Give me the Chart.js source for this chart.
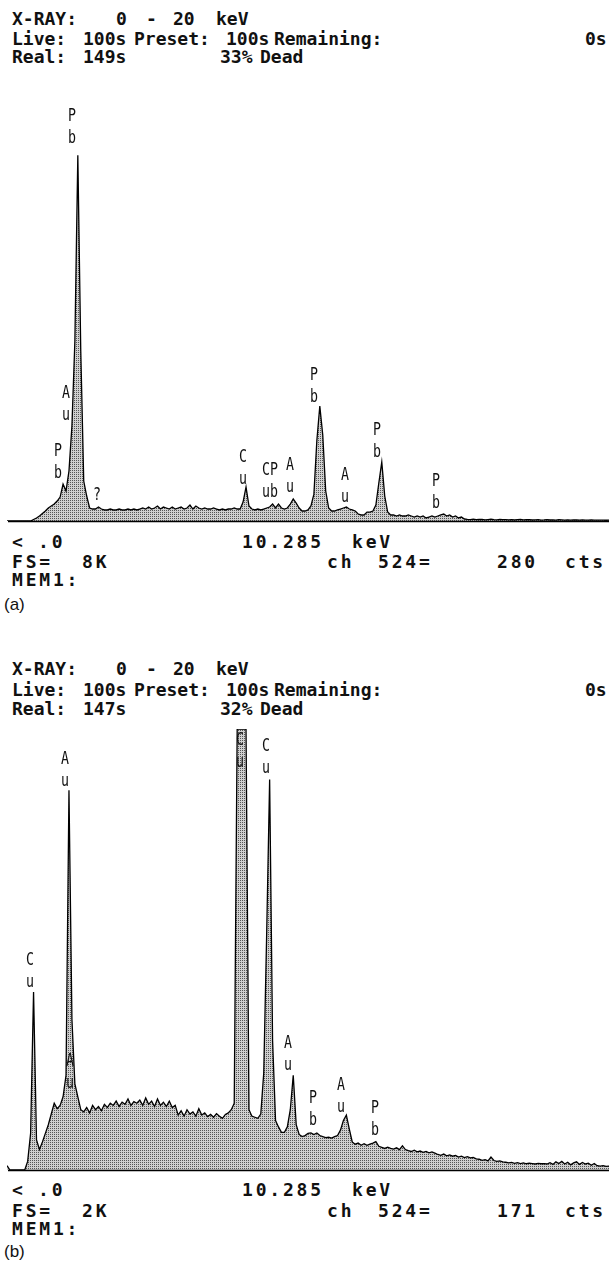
<!DOCTYPE html>
<html><head><meta charset="utf-8">
<script src="https://cdn.jsdelivr.net/npm/chart.js@4.4.1/dist/chart.umd.min.js"></script>
<style>
html,body{margin:0;padding:0;background:#fff;}
#page{position:relative;width:609px;height:1263px;overflow:hidden;background:#fff;}
.t{position:absolute;font-family:"DejaVu Sans Mono",monospace;font-size:18px;font-weight:bold;line-height:1;color:#111;white-space:pre;}
.h{letter-spacing:0px;}
.f{letter-spacing:2.8px;}
.cap{position:absolute;font-family:"Liberation Sans",Arial,sans-serif;font-size:17px;line-height:1;color:#111;white-space:pre;}
.lbl{position:absolute;font-family:"DejaVu Sans Mono",monospace;font-size:17px;line-height:22px;color:#111;text-align:center;white-space:pre;transform-origin:50% 50%;}
canvas{position:absolute;left:0;}
</style></head><body><div id="page"></div>
<script>
// ---------- DATA ----------
// channel energies: 0.0 .. 20.4 keV, 0.1 keV per channel
const channelStepKeV = 0.1;
const channelCount = 205;
const axisMinKeV = 0;
const axisMaxKeV = 20.4;
const cursorKeV = 10.285;

// (a) full scale 8K
const fullScaleA = 8192;
const cursorCountsA = 280;
const countsA = [
  0,0,0,0,0,0,0,0,0,28,
  56,93,140,186,242,279,316,372,446,688,
  558,930,1767,3348,6808,3162,744,465,242,223,
  223,260,223,205,205,223,205,205,223,205,
  205,223,205,223,205,223,242,223,260,223,
  242,279,223,260,242,223,260,223,242,260,
  223,242,298,223,279,242,223,242,223,223,
  242,223,205,223,205,223,223,242,223,223,
  353,632,279,223,205,223,205,223,242,260,
  316,242,316,242,223,242,316,409,335,242,
  186,186,205,280,500,1500,2139,1600,558,242,
  186,186,205,223,242,260,223,205,186,130,
  112,112,167,167,186,298,707,1097,465,167,
  112,112,93,112,93,93,112,93,74,93,
  74,93,56,74,93,74,93,112,130,93,
  112,74,93,56,74,37,30,26,33,24,
  28,31,22,27,33,25,21,29,24,26,
  22,27,19,24,28,20,23,25,19,22,
  24,18,21,26,19,22,17,23,20,18,
  21,16,22,19,17,20,15,18,21,16,
  18,15,17,14,16
];

// (b) full scale 2K
const fullScaleB = 2048;
const cursorCountsB = 171;
const countsB = [
  20,0,0,0,0,0,0,40,170,826,
  140,95,130,170,210,260,310,285,300,340,
  440,1763,700,400,340,280,270,290,265,300,
  280,295,275,305,290,310,300,320,295,315,
  305,330,300,318,310,325,300,335,305,320,
  295,330,300,315,295,320,290,300,255,275,
  250,280,260,270,250,285,255,265,248,258,
  245,262,250,240,258,265,280,310,2048,2048,
  2048,2048,280,250,245,240,260,450,1100,1814,
  600,230,200,175,175,200,280,440,210,165,
  155,160,170,172,165,172,160,155,150,152,
  148,155,160,185,230,255,190,130,120,125,
  115,122,115,120,125,132,110,105,100,106,
  100,97,103,95,112,95,90,86,92,84,
  88,82,86,80,84,78,72,68,74,66,
  70,64,68,60,64,58,62,56,58,52,
  50,45,48,42,60,44,40,42,38,36,
  33,35,31,34,30,33,29,32,30,28,
  31,29,30,28,34,26,38,30,40,28,
  36,24,33,38,26,35,28,32,22,30,
  20,18,20,17,18
];

// peak labels: text, energy (keV), count level of the label's last line
const peakLabelTextA = ["P\nb","A\nu","P\nb","?","C\nu","C\nu","P\nb","A\nu","P\nb","A\nu","P\nb","P\nb"];
const peakLabelKeVA  = [2.2, 2.0, 1.73, 3.05, 8.0, 8.78, 9.05, 9.59, 10.4, 11.45, 12.54, 14.54];
const peakLabelCtsA  = [7031, 1879, 800, 391, 688, 446, 446, 539, 2213, 353, 1190, 242];

const peakLabelTextB = ["C\nu","A\nu","A\nu","C\nu","C\nu","A\nu","P\nb","A\nu","P\nb"];
const peakLabelKeVB  = [0.78, 1.97, 2.13, 7.9, 8.78, 9.52, 10.37, 11.32, 12.47];
const peakLabelCtsB  = [850, 1783, 381, 1872, 1844, 464, 209, 269, 163];

// header / footer texts
const headerA = [["X-RAY:","0","-","20","keV"],["Live:","100s","Preset:","100s","Remaining:","0s"],["Real:","149s","33%","Dead"]];
const headerB = [["X-RAY:","0","-","20","keV"],["Live:","100s","Preset:","100s","Remaining:","0s"],["Real:","147s","32%","Dead"]];
const footerA = [["<",".0","10.285","keV"],["FS=","8K","ch","524=","280","cts"],["MEM1:"]];
const footerB = [["<",".0","10.285","keV"],["FS=","2K","ch","524=","171","cts"],["MEM1:"]];
const captionA = "(a)";
const captionB = "(b)";

// ---------- LAYOUT ----------
const headerX = [[12,116,146,173,216],[12,83,134,226,274,585],[12,83,220,260]];
const footerX = [[12,38,242,352],[12,82,327,378,497,565],[12]];
const page = document.getElementById('page');
const energies = Array.from({length: channelCount}, (_, i) => +(i * channelStepKeV).toFixed(1));

function addText(txt, x, capTop, cls) {
  const d = document.createElement('div');
  d.className = cls;
  d.textContent = txt;
  d.style.left = x + 'px';
  d.style.top = (capTop - 2) + 'px';
  page.appendChild(d);
}

function addRows(rows, xs, capTops, cls) {
  rows.forEach((row, r) => row.forEach((tok, k) => addText(tok, xs[r][k], capTops[r], cls)));
}

function makePattern(ctx) {
  const pc = document.createElement('canvas');
  pc.width = 2; pc.height = 2;
  const p = pc.getContext('2d');
  p.fillStyle = '#cfcfcf'; p.fillRect(0, 0, 2, 2);
  p.fillStyle = '#555555'; p.fillRect(0, 0, 1, 1);
  return ctx.createPattern(pc, 'repeat');
}

const baselinePlugin = {
  id: 'baseline',
  afterDatasetsDraw(chart) {
    const ctx = chart.ctx, a = chart.chartArea;
    const y = Math.round(chart.scales.y.getPixelForValue(0)) + 0.5;
    ctx.save();
    ctx.strokeStyle = '#000';
    ctx.lineWidth = 1.6;
    ctx.beginPath();
    ctx.moveTo(a.left + 1, y);
    ctx.lineTo(a.right, y);
    ctx.stroke();
    ctx.restore();
  }
};

function makePanel(canvasTop, plotHeight, fullScale, counts, cursorCounts, lblText, lblKeV, lblCts) {
  const pad = 3;
  const cv = document.createElement('canvas');
  const h = plotHeight + 2 * pad;
  cv.width = 609; cv.height = h;
  cv.style.width = '609px'; cv.style.height = h + 'px';
  cv.style.top = canvasTop + 'px';
  page.appendChild(cv);
  const ctx = cv.getContext('2d');
  const chart = new Chart(ctx, {
    type: 'line',
    data: {
      datasets: [
        {
          data: counts.map((c, i) => ({x: energies[i], y: c})),
          borderColor: '#000', borderWidth: 1.3,
          backgroundColor: makePattern(ctx),
          fill: 'origin', pointRadius: 0, tension: 0
        },
        {
          data: [{x: cursorKeV, y: 0}, {x: cursorKeV, y: cursorCounts}],
          borderColor: '#222', borderWidth: 1, pointRadius: 0, fill: false
        }
      ]
    },
    options: {
      responsive: false, animation: false, devicePixelRatio: 1, events: [],
      layout: {padding: {left: 7, right: 0, top: pad, bottom: pad}},
      plugins: {legend: {display: false}, tooltip: {enabled: false}, title: {display: false}},
      scales: {
        x: {type: 'linear', min: axisMinKeV, max: axisMaxKeV, display: false},
        y: {min: 0, max: fullScale, display: false}
      }
    },
    plugins: [baselinePlugin]
  });
  const xs = chart.scales.x, ys = chart.scales.y;
  lblText.forEach((t, i) => {
    const lines = t.split('\n').length;
    const d = document.createElement('div');
    d.className = 'lbl';
    d.textContent = t;
    const px = xs.getPixelForValue(lblKeV[i]);
    const py = canvasTop + ys.getPixelForValue(lblCts[i]);
    d.style.left = px + 'px';
    d.style.top = (py - (lines - 1) * 22 - 17) + 'px';
    d.style.transform = 'translateX(-50%) scaleX(0.78)';
    page.appendChild(d);
  });
  return chart;
}

// panel (a)
addRows(headerA, headerX, [12, 32, 50], 't h');
makePanel(78, 440, fullScaleA, countsA, cursorCountsA, peakLabelTextA, peakLabelKeVA, peakLabelCtsA);
addRows(footerA, footerX, [535, 555, 573], 't f');
addText(captionA, 4, 598, 'cap');

// panel (b)
addRows(headerB, headerX, [662, 683, 702], 't h');
makePanel(726, 441, fullScaleB, countsB, cursorCountsB, peakLabelTextB, peakLabelKeVB, peakLabelCtsB);
addRows(footerB, footerX, [1183, 1204, 1222], 't f');
addText(captionB, 4, 1245, 'cap');
</script></body></html>
